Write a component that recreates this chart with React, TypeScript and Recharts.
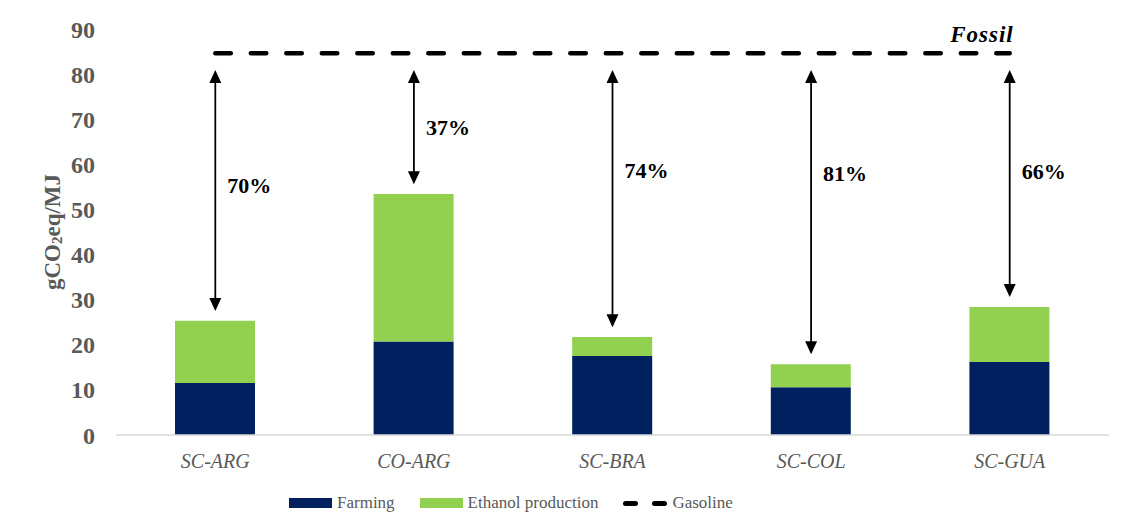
import { ComposedChart, Bar, Line, XAxis, YAxis, ReferenceLine, ReferenceDot } from 'recharts'

const CATEGORIES = ['SC-ARG', 'CO-ARG', 'SC-BRA', 'SC-COL', 'SC-GUA']
const FARMING = [11.5, 20.7, 17.5, 10.6, 16.2]
const ETHANOL = [13.8, 32.7, 4.2, 5.1, 12.2]
const GASOLINE = 84.6
const Y_TICKS = [0, 10, 20, 30, 40, 50, 60, 70, 80, 90]
// height (in gCO2eq/MJ) where each reduction label sits beside its arrow
const LABEL_AT = [55.4, 68.3, 58.6, 58.1, 58.5]

const NAVY = '#002060'
const GREEN = '#92d050'
const GREY = '#595959'
const SERIF = "'Liberation Serif', 'Times New Roman', serif"

const data = CATEGORIES.map((name, i) => ({
  name,
  farming: FARMING[i],
  ethanol: ETHANOL[i],
  total: FARMING[i] + ETHANOL[i],
  gasoline: GASOLINE,
}))

// reduction vs. fossil gasoline
const pct = (total: number) => Math.round(((GASOLINE - total) / GASOLINE) * 100) + '%'

function Arrow(props: any) {
  const { x1, y1, x2, y2 } = props
  const top = Math.min(y1, y2)
  const bottom = Math.max(y1, y2)
  const x = x1
  return (
    <g>
      <line x1={x} y1={top + 10} x2={x2} y2={bottom - 10} stroke="#000" strokeWidth={1.8} />
      <polygon points={`${x},${top} ${x - 6},${top + 13} ${x + 6},${top + 13}`} fill="#000" />
      <polygon points={`${x},${bottom} ${x - 6},${bottom - 13} ${x + 6},${bottom - 13}`} fill="#000" />
    </g>
  )
}

function YLabel(props: any) {
  const { viewBox } = props
  const cx = viewBox.x + 36
  const cy = viewBox.y + viewBox.height / 2
  return (
    <text x={cx} y={cy} transform={`rotate(-90, ${cx}, ${cy})`} textAnchor="middle" dominantBaseline="central"
      fill={GREY} fontFamily={SERIF} fontWeight="bold" fontSize={23}>
      <tspan>gCO</tspan>
      <tspan fontSize={15} dy={5}>2</tspan>
      <tspan dy={-5}>eq/MJ</tspan>
    </text>
  )
}

function FossilLabel(props: any) {
  const { viewBox } = props
  return (
    <text x={viewBox.x + 4} y={viewBox.y - 11} textAnchor="end" fill="#000" fontFamily={SERIF}
      fontWeight="bold" fontStyle="italic" fontSize={23} letterSpacing={1}>
      Fossil
    </text>
  )
}

function LegendSwatch({ color, label }: { color: string; label: string }) {
  return (
    <div style={{ display: 'flex', alignItems: 'center', marginRight: 25 }}>
      <div style={{ width: 43, height: 10, background: color, marginRight: 5 }} />
      <span>{label}</span>
    </div>
  )
}

export default function App() {
  return (
    <div style={{ position: 'relative', marginLeft: -1, marginTop: -2, width: 1130, height: 540, border: '1px solid #d9d9d9' }}>
      <ComposedChart width={1120} height={530} data={data} margin={{ top: 22, right: 19, bottom: 72, left: 8 }}>
        <XAxis dataKey="name" axisLine={{ stroke: '#d9d9d9', strokeWidth: 1.5 }} tickLine={false} tickSize={0} tickMargin={19}
          height={30} tick={{ fill: GREY, fontFamily: SERIF, fontStyle: 'italic', fontSize: 20 }} />
        <YAxis domain={[0, 90]} ticks={Y_TICKS} width={100} axisLine={false} tickLine={false} tickSize={0} tickMargin={21}
          tick={{ fill: GREY, fontFamily: SERIF, fontWeight: 'bold', fontSize: 24 }} label={<YLabel />} />
        <Bar dataKey="farming" stackId="a" fill={NAVY} barSize={80} isAnimationActive={false} />
        <Bar dataKey="ethanol" stackId="a" fill={GREEN} barSize={80} isAnimationActive={false} />
        <Line dataKey="gasoline" stroke="#000" strokeWidth={4.5} strokeDasharray="15.5 20" strokeLinecap="round"
          dot={false} activeDot={false} isAnimationActive={false} />
        {data.map((d) => (
          <ReferenceLine key={d.name} segment={[{ x: d.name, y: GASOLINE - 3.7 }, { x: d.name, y: d.total + 2.2 }]}
            shape={<Arrow />} />
        ))}
        {data.map((d, i) => (
          <ReferenceDot key={'l' + d.name} x={d.name} y={LABEL_AT[i]} r={0} fill="none" stroke="none"
            label={{ value: pct(d.total), position: 'right', offset: 12, fill: '#000', fontFamily: SERIF, fontWeight: 'bold', fontSize: 22 }} />
        ))}
        <ReferenceDot x="SC-GUA" y={GASOLINE} r={0} fill="none" stroke="none" label={<FossilLabel />} />
      </ComposedChart>
      <div style={{ position: 'absolute', left: 281, top: 486, display: 'flex', alignItems: 'center', fontFamily: SERIF, fontSize: 17, color: GREY }}>
        <LegendSwatch color={NAVY} label="Farming" />
        <LegendSwatch color={GREEN} label="Ethanol production" />
        <div style={{ display: 'flex', alignItems: 'center' }}>
          <div style={{ width: 15, height: 5, borderRadius: 3, background: '#000', marginRight: 14 }} />
          <div style={{ width: 15, height: 5, borderRadius: 3, background: '#000', marginRight: 5 }} />
          <span>Gasoline</span>
        </div>
      </div>
    </div>
  )
}
